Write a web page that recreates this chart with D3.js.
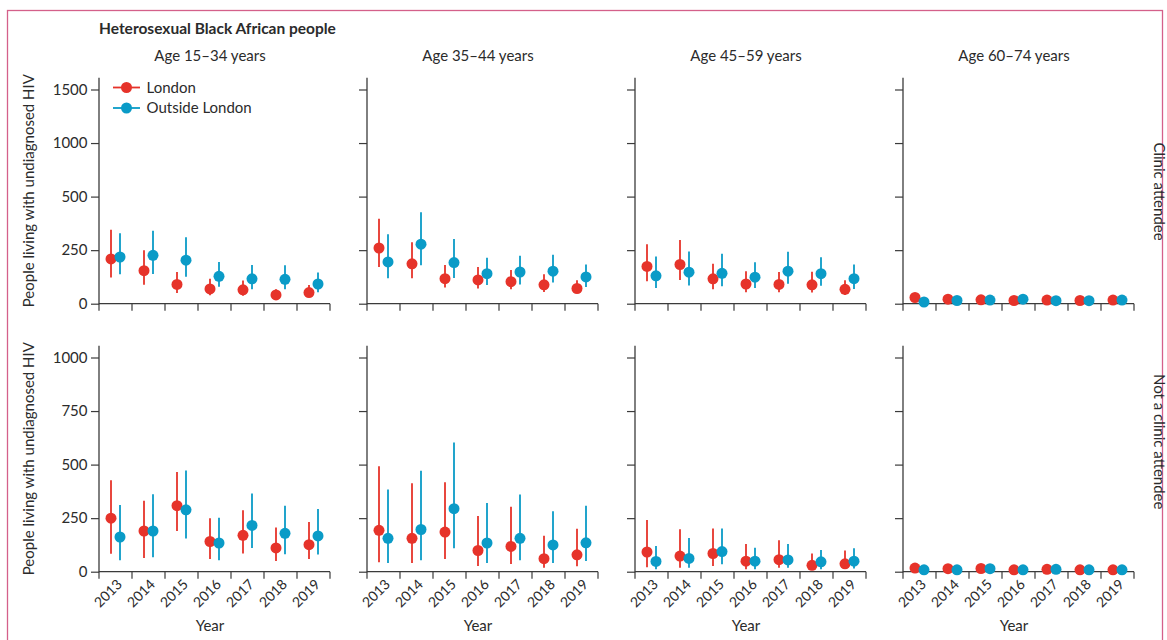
<!DOCTYPE html>
<html><head><meta charset="utf-8">
<script src="https://cdn.jsdelivr.net/npm/d3@7"></script>
<style>
body{margin:0;background:#fff}
text{font-family:Lato,"Open Sans",sans-serif;fill:#2b2b2b}
</style>
</head><body>
<svg id="chart" width="1167" height="640"></svg>
<script>
// ---------------- data ----------------
const years = [2013, 2014, 2015, 2016, 2017, 2018, 2019];
const ageGroups = ["Age 15\u201334 years", "Age 35\u201344 years", "Age 45\u201359 years", "Age 60\u201374 years"];
const rowLabels = ["Clinic attendee", "Not a clinic attendee"];
const seriesNames = ["London", "Outside London"];
const seriesColors = ["#e6332a", "#0a9bc7"];
const ticksClinic = [0, 250, 500, 1000, 1500];
const ticksNonClinic = [0, 250, 500, 750, 1000];

// each entry: [estimate, lower, upper]
// Clinic attendee
const clinic_15_34_London  = [[209,122,345],[154,88,250],[90,50,148],[69,39,116],[65,37,108],[41,28,67],[52,30,87]];
const clinic_15_34_Outside = [[218,137,329],[226,139,340],[203,126,310],[128,79,195],[116,67,181],[114,67,180],[92,53,146]];
const clinic_35_44_London  = [[260,171,397],[186,119,287],[117,76,181],[111,71,171],[103,67,157],[88,55,137],[71,50,110]];
const clinic_35_44_Outside = [[195,119,324],[278,180,427],[192,120,302],[140,87,215],[148,90,224],[152,99,229],[125,78,183]];
const clinic_45_59_London  = [[174,105,278],[183,111,297],[116,67,186],[92,53,152],[90,53,148],[88,52,149],[67,41,110]];
const clinic_45_59_Outside = [[130,73,220],[147,85,244],[142,81,233],[124,73,194],[152,93,242],[140,84,217],[117,69,183]];
const clinic_60_74_London  = [[29,19,42],[21,13,31],[18,11,27],[15,9,23],[17,10,25],[15,9,23],[17,10,26]];
const clinic_60_74_Outside = [[8,4,14],[15,9,23],[17,10,26],[21,13,31],[14,8,21],[14,8,21],[17,10,25]];
// Not a clinic attendee
const nonclinic_15_34_London  = [[250,84,427],[190,64,331],[308,190,466],[141,59,250],[170,85,287],[111,50,206],[126,59,232]];
const nonclinic_15_34_Outside = [[162,53,311],[190,68,361],[289,155,472],[134,53,252],[216,111,365],[179,82,308],[167,80,293]];
const nonclinic_35_44_London  = [[193,44,492],[156,41,413],[185,59,418],[99,27,260],[118,36,303],[61,18,168],[79,26,200]];
const nonclinic_35_44_Outside = [[156,41,384],[197,53,471],[294,109,603],[134,41,321],[156,53,360],[125,41,282],[135,50,308]];
const nonclinic_45_59_London  = [[92,21,241],[73,18,198],[85,27,202],[49,12,129],[56,18,147],[30,9,85],[37,15,99]];
const nonclinic_45_59_Outside = [[48,12,120],[62,18,157],[94,35,202],[49,12,112],[55,18,129],[46,12,101],[49,15,109]];
const nonclinic_60_74_London  = [[17,10,26],[14,8,21],[15,9,23],[9,5,14],[11,6,17],[9,5,14],[9,5,14]];
const nonclinic_60_74_Outside = [[9,5,14],[9,5,14],[14,8,21],[9,5,14],[11,6,17],[9,5,14],[9,5,14]];

const panelData = [
  [[clinic_15_34_London, clinic_15_34_Outside], [clinic_35_44_London, clinic_35_44_Outside],
   [clinic_45_59_London, clinic_45_59_Outside], [clinic_60_74_London, clinic_60_74_Outside]],
  [[nonclinic_15_34_London, nonclinic_15_34_Outside], [nonclinic_35_44_London, nonclinic_35_44_Outside],
   [nonclinic_45_59_London, nonclinic_45_59_Outside], [nonclinic_60_74_London, nonclinic_60_74_Outside]]
];
const rowTicks = [ticksClinic, ticksNonClinic];

// ---------------- layout ----------------
const svg = d3.select("#chart");
const colX0 = 99, colStep = 268, W = 231, H = 226, step = 53.55;
const rowY = [77.7, 345.7];
const axisColor = "#3b3b3b";

svg.append("rect").attr("x", 7.5).attr("y", 10.5).attr("width", 1155).attr("height", 700)
  .attr("fill", "none").attr("stroke", "#d4608a").attr("stroke-width", 1.3);

svg.append("text").attr("x", 99).attr("y", 34).attr("font-size", 15.5).attr("font-weight", 700)
  .text("Heterosexual Black African people");

const x = d3.scaleBand().domain(years).range([0, W]).paddingInner(0).paddingOuter(0);
const xs = d3.scaleBand().domain(seriesNames).range([7.5, 25.5]);

rowTicks.forEach((ticks, r) => {
  const y = d3.scaleLinear().domain(ticks).range(ticks.map((t, i) => H - i * step));
  for (let c = 0; c < 4; c++) {
    const g = svg.append("g").attr("transform", `translate(${colX0 + c * colStep},${rowY[r]})`);
    // y axis
    const ya = g.append("g").call(d3.axisLeft(y).tickValues(ticks).tickSize(8).tickPadding(3.5).tickSizeOuter(0)
      .tickFormat(c === 0 ? d3.format("d") : ""));
    ya.select(".domain").remove();
    ya.selectAll("line").attr("stroke", axisColor).attr("stroke-width", 1.2);
    ya.selectAll("text").attr("font-size", 15).attr("fill", "#2b2b2b").attr("font-family", "Lato");
    g.append("line").attr("x1", 0).attr("x2", 0).attr("y1", 0).attr("y2", H + 0.6)
      .attr("stroke", axisColor).attr("stroke-width", 1.3);
    // x axis
    g.append("line").attr("x1", 0).attr("x2", W).attr("y1", H).attr("y2", H)
      .attr("stroke", axisColor).attr("stroke-width", 1.3);
    const edges = years.map(yr => x(yr)).concat([x(years[years.length - 1]) + x.bandwidth()]);
    g.selectAll(".xt").data(edges).join("line").attr("class", "xt")
      .attr("x1", d => d).attr("x2", d => d).attr("y1", H).attr("y2", H + 7)
      .attr("stroke", axisColor).attr("stroke-width", 1.2);
    if (r === 1) {
      g.selectAll(".xl").data(years).join("text").attr("class", "xl")
        .attr("transform", d => `translate(${x(d) + 24},${H + 13.5}) rotate(-45)`)
        .attr("text-anchor", "end").attr("font-size", 14).text(d => d);
      g.append("text").attr("x", 111).attr("y", 631 - rowY[1]).attr("text-anchor", "middle")
        .attr("font-size", 15).text("Year");
    } else {
      g.append("text").attr("x", 111).attr("y", 61 - rowY[0]).attr("text-anchor", "middle")
        .attr("font-size", 15).text(ageGroups[c]);
    }
    // series
    panelData[r][c].forEach((ser, si) => {
      const sg = g.append("g");
      const col = seriesColors[si];
      sg.selectAll("line").data(ser).join("line")
        .attr("x1", (d, i) => x(years[i]) + xs(seriesNames[si]) + xs.bandwidth() / 2)
        .attr("x2", (d, i) => x(years[i]) + xs(seriesNames[si]) + xs.bandwidth() / 2)
        .attr("y1", d => y(d[1])).attr("y2", d => y(d[2]))
        .attr("stroke", col).attr("stroke-width", 1.8);
      sg.selectAll("circle").data(ser).join("circle")
        .attr("cx", (d, i) => x(years[i]) + xs(seriesNames[si]) + xs.bandwidth() / 2)
        .attr("cy", d => y(d[0])).attr("r", 5.5).attr("fill", col);
    });
  }
  // y title
  svg.append("text").attr("transform", `translate(34,${rowY[r] + H / 2}) rotate(-90)`)
    .attr("text-anchor", "middle").attr("font-size", 15).text("People living with undiagnosed HIV");
});

// strip labels
svg.append("text").attr("transform", "translate(1153.5,191.5) rotate(90)").attr("text-anchor", "middle")
  .attr("font-size", 15).text(rowLabels[0]);
svg.append("text").attr("transform", "translate(1153.5,441.7) rotate(90)").attr("text-anchor", "middle")
  .attr("font-size", 15).text(rowLabels[1]);

// legend
const lg = svg.append("g");
[87.5, 108].forEach((ly, i) => {
  lg.append("line").attr("x1", 113).attr("x2", 140).attr("y1", ly).attr("y2", ly)
    .attr("stroke", seriesColors[i]).attr("stroke-width", 1.8);
  lg.append("circle").attr("cx", 126.5).attr("cy", ly).attr("r", 5.5).attr("fill", seriesColors[i]);
  lg.append("text").attr("x", 146.5).attr("y", ly + 5.3).attr("font-size", 15).text(seriesNames[i]);
});
</script>
</body></html>
